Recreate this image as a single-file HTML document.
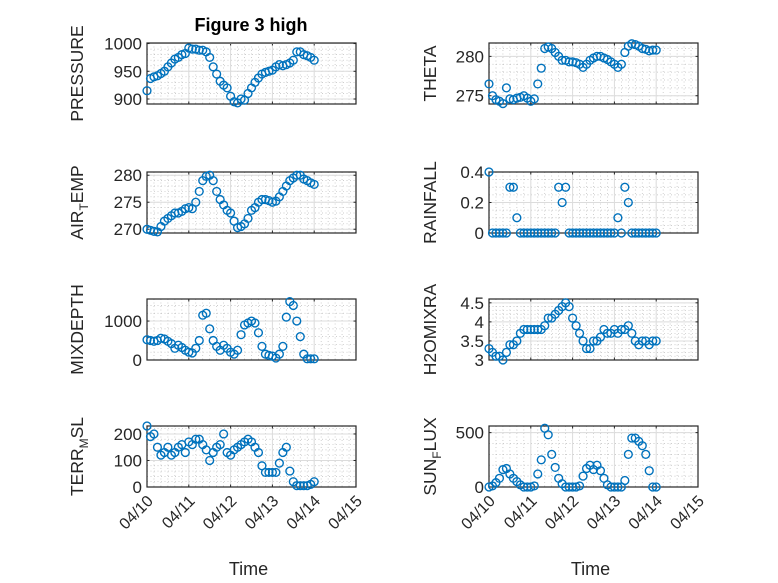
<!DOCTYPE html>
<html><head><meta charset="utf-8"><style>
body{margin:0;background:#fff}
svg{display:block;font-family:"Liberation Sans",sans-serif}
</style></head><body>
<svg id="fig" width="778" height="583" viewBox="0 0 778 583" xmlns="http://www.w3.org/2000/svg">
<rect width="778" height="583" fill="#fff"/>
<text x="251" y="31" text-anchor="middle" font-size="18" font-weight="bold" fill="#000">Figure 3 high</text>
</svg>
<script>
const xTickLabels=["04/10","04/11","04/12","04/13","04/14","04/15"];
const pressure=[915,937,940,942,946,950,958,965,972,975,980,982,992,990,990,988,988,985,975,958,945,932,925,920,905,895,893,900,898,910,920,930,938,945,948,950,952,958,962,960,962,965,970,985,985,980,978,975,970];
const theta=[276.5,275,274.5,274.3,274,276,274.6,274.5,274.7,274.8,275,274.7,274.3,274.6,276.5,278.5,281,281.2,281,280.5,280,279.5,279.5,279.3,279.3,279.2,279,278.6,279,279.5,279.8,280,280,279.8,279.6,279.3,279,278.6,279,280.5,281.3,281.6,281.5,281.3,281,280.9,280.7,280.8,280.8];
const airTemp=[270,269.8,269.6,269.5,270.5,271.5,272,272.5,273,273,273.3,273.8,274,273.8,275,277,279,279.8,280,279,277,275.5,274.5,273.5,273,271.5,270.3,270.5,271,272,273.5,274,275,275.5,275.5,275.3,275,275.2,276,277,278,279,279.5,280,280,279.3,279,278.6,278.3];
const rainfall=[0.4,0,0,0,0,0,0.3,0.3,0.1,0,0,0,0,0,0,0,0,0,0,0,0.3,0.2,0.3,0,0,0,0,0,0,0,0,0,0,0,0,0,0,0.1,0,0.3,0.2,0,0,0,0,0,0,0,0];
const mixDepth=[520,500,480,500,560,540,480,420,300,380,320,250,200,180,300,500,1150,1200,800,500,350,250,380,300,200,150,250,650,900,950,1000,950,700,350,150,120,100,50,150,350,1100,1500,1400,1000,600,150,30,30,30];
const h2oMixRatio=[3.3,3.2,3.1,3.1,3.0,3.2,3.4,3.4,3.5,3.7,3.8,3.8,3.8,3.8,3.8,3.8,3.9,4.1,4.1,4.2,4.3,4.4,4.5,4.4,4.1,3.9,3.7,3.5,3.3,3.3,3.5,3.5,3.6,3.8,3.7,3.7,3.8,3.7,3.8,3.8,3.9,3.7,3.5,3.4,3.5,3.5,3.4,3.5,3.5];
const terrMsl=[230,190,200,150,120,130,150,120,130,150,160,130,170,160,180,180,160,140,100,130,150,160,200,130,120,140,150,160,170,180,170,150,130,80,55,55,55,55,90,130,150,60,20,5,5,5,5,10,20];
const sunFlux=[0,10,40,80,160,170,120,80,50,20,0,0,0,10,120,250,540,480,300,180,80,30,0,0,0,0,10,100,170,200,160,200,150,80,20,0,0,0,0,60,300,450,450,420,380,300,150,0,0];
const timeDays=pressure.map((_,i)=>i/12);

const NS="http://www.w3.org/2000/svg";
const svg=document.getElementById('fig');
function mk(tag,attrs,parent){const e=document.createElementNS(NS,tag);for(const k in attrs)e.setAttribute(k,attrs[k]);(parent||svg).appendChild(e);return e;}

const cols=[147,489], W=209;
const tops=[43,172,299,426], H=61;
const panels=[
 {c:0,r:0,data:pressure,lim:[891,1001],ticks:[900,950,1000],minor:10,label:["PRESSURE"],name:"pressure"},
 {c:1,r:0,data:theta,lim:[273.95,281.7],ticks:[275,280],minor:1,label:["THETA"],name:"theta"},
 {c:0,r:1,data:airTemp,lim:[269.3,280.6],ticks:[270,275,280],minor:1,label:["AIR","T","EMP"],name:"air-temp"},
 {c:1,r:1,data:rainfall,lim:[0,0.4],ticks:[0,0.2,0.4],minor:0.05,label:["RAINFALL"],name:"rainfall"},
 {c:0,r:2,data:mixDepth,lim:[0,1566],ticks:[0,1000],minor:200,label:["MIXDEPTH"],name:"mixdepth"},
 {c:1,r:2,data:h2oMixRatio,lim:[3,4.6],ticks:[3,3.5,4,4.5],minor:0.1,label:["H2OMIXRA"],name:"h2omixra"},
 {c:0,r:3,data:terrMsl,lim:[0,230],ticks:[0,100,200],minor:20,label:["TERR","M","SL"],name:"terr-msl"},
 {c:1,r:3,data:sunFlux,lim:[0,561],ticks:[0,500],minor:100,label:["SUN","F","LUX"],name:"sun-flux"}
];
panels.forEach(p=>{
 const x0=cols[p.c], y0=tops[p.r];
 const g=mk('g',{});
 
 
 const xs=d=>x0+d/5*W;
 const ys=v=>y0+H-(v-p.lim[0])/(p.lim[1]-p.lim[0])*H;
 mk('rect',{x:x0,y:y0,width:W,height:H,fill:'#fff'},g);
 for(let d=0;d<=5;d+=1/6){const x=xs(d);mk('line',{x1:x,x2:x,y1:y0,y2:y0+H,stroke:'#bdbdbd','stroke-width':0.7,'stroke-dasharray':'1 2.5'},g);}
 const st=Math.ceil(p.lim[0]/p.minor)*p.minor;
 for(let v=st;v<=p.lim[1]+1e-9;v+=p.minor){const y=ys(v);mk('line',{x1:x0,x2:x0+W,y1:y,y2:y,stroke:'#bdbdbd','stroke-width':0.7,'stroke-dasharray':'1 2.5'},g);}
 xTickLabels.forEach((t,i)=>{const x=xs(i);
  mk('line',{x1:x,x2:x,y1:y0,y2:y0+H,stroke:'#dcdcdc','stroke-width':1},g);
  mk('line',{x1:x,x2:x,y1:y0+H,y2:y0+H-2.5,stroke:'#262626','stroke-width':1},g);
  mk('line',{x1:x,x2:x,y1:y0,y2:y0+2.5,stroke:'#262626','stroke-width':1},g);
  if(p.r===3){const tx=mk('text',{x:x+7,y:y0+H+15,'text-anchor':'end','font-size':16,fill:'#262626',transform:`rotate(-45 ${x+7} ${y0+H+15})`},g);tx.textContent=t;
   
   }
 });
 p.ticks.forEach(v=>{const y=ys(v);
  mk('line',{x1:x0,x2:x0+W,y1:y,y2:y,stroke:'#dcdcdc','stroke-width':1},g);
  mk('line',{x1:x0,x2:x0+2.5,y1:y,y2:y,stroke:'#262626','stroke-width':1},g);
  mk('line',{x1:x0+W,x2:x0+W-2.5,y1:y,y2:y,stroke:'#262626','stroke-width':1},g);
  const tx=mk('text',{x:x0-5,y:y+6,'text-anchor':'end','font-size':17,fill:'#262626'},g);tx.textContent=String(v);
  
  
 });
 mk('rect',{x:x0,y:y0,width:W,height:H,fill:'none',stroke:'#262626','stroke-width':1.2},g);
 p.data.forEach((v,i)=>{
  const c=mk('circle',{cx:xs(timeDays[i]),cy:ys(v),r:3.9,fill:'none',stroke:'#0072BD','stroke-width':1.4},g);
  
  
 });
 const lx=p.c===0?83:436, ly=y0+H/2;
 const lab=mk('text',{x:lx,y:ly,'text-anchor':'middle','font-size':17.5,fill:'#262626',transform:`rotate(-90 ${lx} ${ly})`},g);
 
 
 if(p.label.length===1){lab.textContent=p.label[0];}
 else{const a=mk('tspan',{},lab);a.textContent=p.label[0];
  const b=mk('tspan',{'font-size':12,dy:5},lab);b.textContent=p.label[1];
  const c=mk('tspan',{dy:-5},lab);c.textContent=p.label[2];}
 if(p.r===3){const t=mk('text',{x:x0+W/2-3,y:575,'text-anchor':'middle','font-size':18,fill:'#262626'},g);t.textContent='Time';
  
  }
});
</script>
</body></html>
